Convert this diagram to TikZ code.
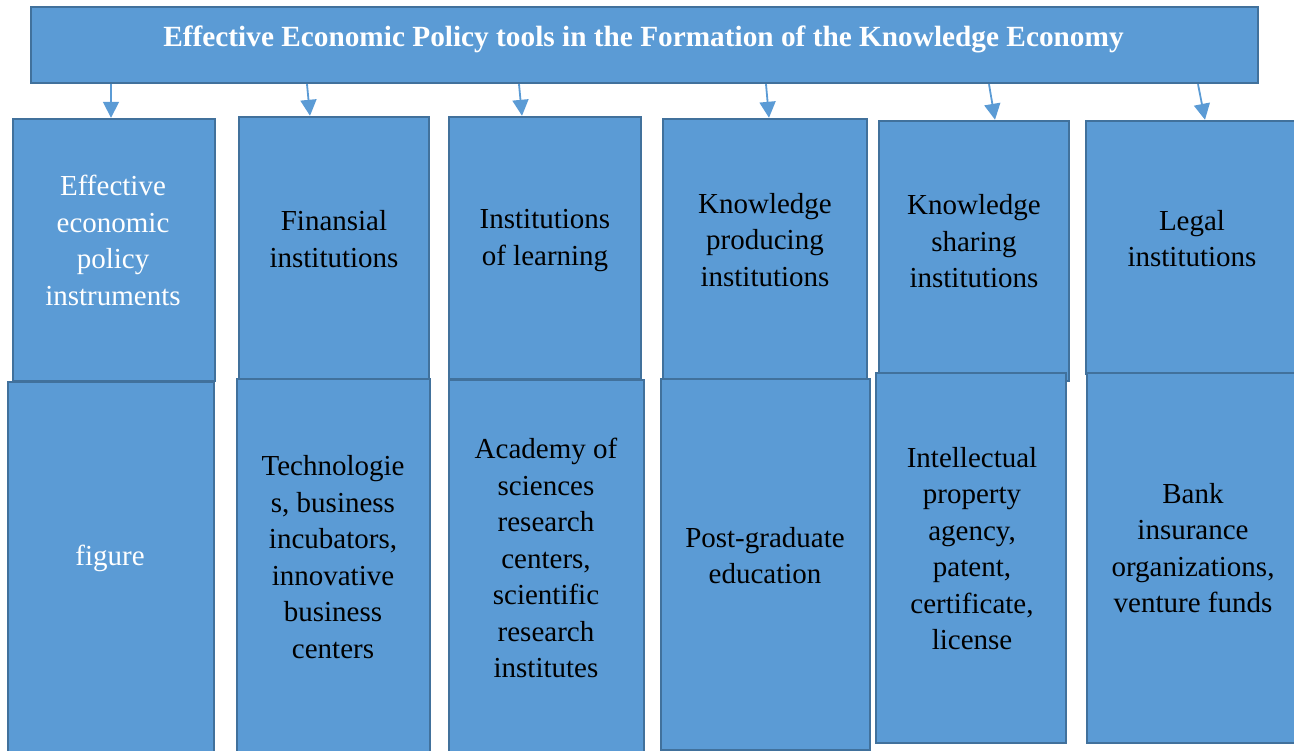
\documentclass[tikz,border=0pt]{standalone}
\usepackage{fontspec}
\setmainfont{Liberation Serif}
\usetikzlibrary{arrows.meta}
\definecolor{boxfill}{HTML}{5B9BD5}
\definecolor{boxline}{HTML}{41719C}
\begin{document}
\begin{tikzpicture}
		[x=1pt,y=-1pt,
		mybox/.style={rectangle,draw=boxline,fill=boxfill,line width=2.4pt,inner sep=0pt},
		mytext/.style={align=center,inner sep=0pt,font=\fontsize{29}{36.5}\selectfont},
		myarrow/.style={draw=boxfill,line width=1.8pt,-{Triangle[length=16pt,width=16pt]}}]
		\useasboundingbox (0,0) rectangle (1294,751);
		\node[mybox,minimum width=1227,minimum height=76,name=top] at (644.5,45) {};
		\node[name=title,text=white,inner sep=0pt,font=\bfseries\fontsize{29.3}{34}\selectfont] at (643.5,39)
		{Effective Economic Policy tools in the Formation of the Knowledge Economy};
		\node[mybox,minimum width=202,minimum height=262,name=u1] at (114,250) {};
		\node[mybox,minimum width=190,minimum height=263,name=u2] at (334,248.5) {};
		\node[mybox,minimum width=192,minimum height=262,name=u3] at (545,248) {};
		\node[mybox,minimum width=204,minimum height=260,name=u4] at (765,249) {};
		\node[mybox,minimum width=190,minimum height=260,name=u5] at (974,251) {};
		\node[mybox,minimum width=216,minimum height=253,name=u6] at (1194,247.5) {};
		\node[mybox,minimum width=206,minimum height=378,name=l1] at (111,571) {};
		\node[mybox,minimum width=193,minimum height=381,name=l2] at (333.5,569.5) {};
		\node[mybox,minimum width=195,minimum height=380,name=l3] at (546.5,570) {};
		\node[mybox,minimum width=209,minimum height=371,name=l4] at (765.5,564.5) {};
		\node[mybox,minimum width=190,minimum height=370,name=l5] at (971,558) {};
		\node[mybox,minimum width=215,minimum height=370,name=l6] at (1194.5,558) {};
		\node[mytext,text=white,name=u1t] at (113,240.5) {Effective\\economic\\policy\\instruments};
		\node[mytext,name=u2t] at (334,239) {Finansial\\institutions};
		\node[mytext,name=u3t] at (545,240.5) {Institutions\\of learning};
		\node[mytext,name=u4t] at (765,240) {Knowledge\\producing\\institutions};
		\node[mytext,name=u5t] at (974,241.5) {Knowledge\\sharing\\institutions};
		\node[mytext,name=u6t] at (1192,238.5) {Legal\\institutions};
		\node[mytext,text=white,name=l1t] at (110,558) {figure};
		\node[mytext,name=l2t] at (333,557) {Technologie\\s, business\\incubators,\\innovative\\business\\centers};
		\node[mytext,name=l3t] at (546,558) {Academy of\\sciences\\research\\centers,\\scientific\\research\\institutes};
		\node[mytext,name=l4t] at (765,555.5) {Post-graduate\\education};
		\node[mytext,name=l5t] at (972,548.5) {Intellectual\\property\\agency,\\patent,\\certificate,\\license};
		\node[mytext,name=l6t] at (1193,548) {Bank\\insurance\\organizations,\\venture funds};
		\foreach \i/\a/\b in {1/111/111,2/307/310,3/519/522,4/766/769,5/989/995,6/1198/1205}
		{
			\draw[myarrow] (top.south -| \a,0) -- (u\i.north -| \b,0);
		}
	\end{tikzpicture}
\end{document}
